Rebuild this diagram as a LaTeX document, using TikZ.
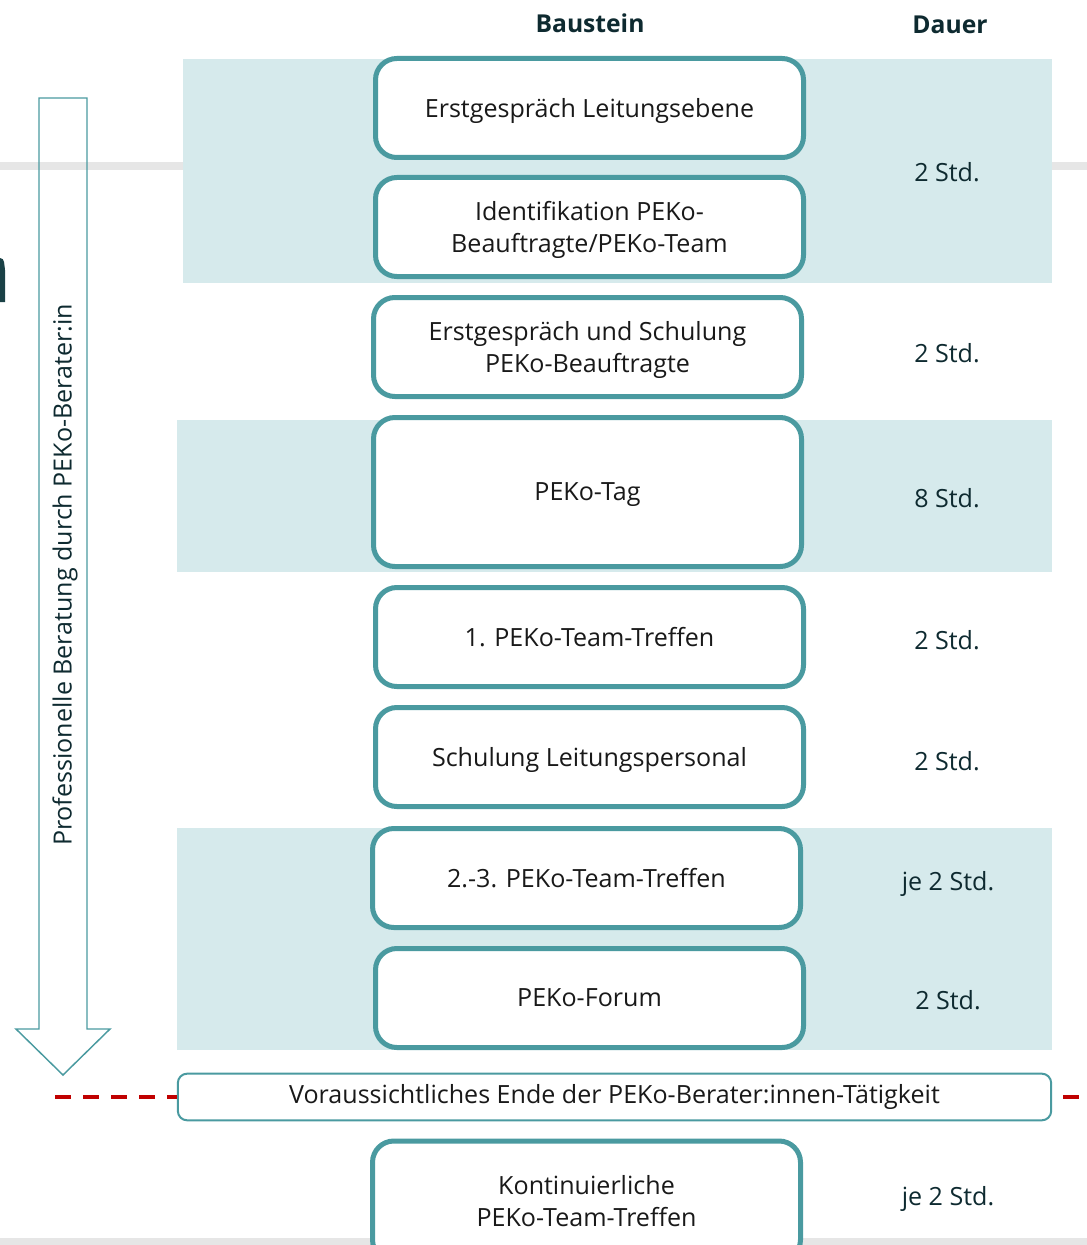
\documentclass[tikz,border=0pt]{standalone}
\usepackage{fontspec}
\setmainfont{Open Sans}
\definecolor{tealline}{HTML}{4A9AA0}
\definecolor{bandfill}{HTML}{D6EAEC}
\definecolor{greyline}{HTML}{E6E6E6}
\definecolor{darktext}{HTML}{0E2A30}
\definecolor{endred}{HTML}{C00000}
\begin{document}
\begin{tikzpicture}[x=0.75pt,y=-0.75pt,
    baustein/.style={draw=tealline,line width=3.75pt,rounded corners=16pt,fill=white,
        minimum width=321pt,minimum height=74.25pt,align=center,inner sep=0pt,
        text depth=0pt,font=\fontsize{18.8}{24}\selectfont,text=black!90},
    dauer/.style={font=\fontsize{18.8}{24}\selectfont,text depth=0pt,text=darktext},
    kopf/.style={font=\fontsize{18.5}{24}\selectfont\bfseries,text=darktext},
    band/.style={fill=bandfill},
    endline/.style={draw=endred,line width=3pt,dash pattern=on 12pt off 9pt}]
    \clip (0,0) rectangle (1087,1245);
    % background lines
    \fill[greyline] (0,162) rectangle (1087,170);
    \fill[greyline] (0,1238) rectangle (1087,1245);
    \fill[darktext!80!tealline] (0,302) -- (0,258) to[out=0,in=100] (5,270) -- (5,302) -- cycle;
    % bands
    \fill[band] (183,59) rectangle (1052,283);
    \fill[band] (177,420) rectangle (1052,572);
    \fill[band] (177,828) rectangle (1052,1050);
    % headers
    \node[kopf] (hbaustein) at (590,23) {Baustein};
    \node[kopf] (hdauer) at (950,25) {Dauer};
    % arrow
    \draw[tealline,line width=1.1pt]
        (39,98) -- (87,98) -- (87,1029) -- (110,1029) -- (63,1075)
        -- (16,1029) -- (39,1029) -- cycle;
    \node[rotate=90,font=\fontsize{18.8}{24}\selectfont,text=darktext] (berater) at (65,575)
        {Professionelle Beratung durch PEKo-Berater:in};
    % bausteine
    \node[baustein] (erst) at (589.5,108) {Erstgespräch Leitungsebene};
    \node[baustein] (ident) at (589.5,227) {Identifikation PEKo-\\Beauftragte/PEKo-Team};
    \node[baustein] (schul) at (587.5,347) {Erstgespräch und Schulung\\PEKo-Beauftragte};
    \node[baustein,minimum height=111.75pt] (tag) at (587.5,492) {PEKo-Tag};
    \node[baustein] (team1) at (589.5,637) {1. PEKo-Team-Treffen};
    \node[baustein] (leitung) at (589.5,757) {Schulung Leitungspersonal};
    \node[baustein] (team23) at (586.5,878) {2.-3. PEKo-Team-Treffen};
    \node[baustein] (forum) at (589.5,998) {PEKo-Forum};
    \node[baustein,minimum height=90pt] (kont) at (586.5,1201) {Kontinuierliche\\PEKo-Team-Treffen};
    % dauer
    \node[dauer] (d1) at (947,172) {2 Std.};
    \node[dauer] (d2) at (947,353) {2 Std.};
    \node[dauer] (d3) at (947,498) {8 Std.};
    \node[dauer] (d4) at (947,640) {2 Std.};
    \node[dauer] (d5) at (947,761) {2 Std.};
    \node[dauer] (d6) at (948,881) {je 2 Std.};
    \node[dauer] (d7) at (948,1000) {2 Std.};
    \node[dauer] (d8) at (948,1196) {je 2 Std.};
    % end of consulting
    \node[draw=tealline,line width=1.5pt,rounded corners=7pt,fill=white,
        minimum width=655pt,minimum height=35pt,inner sep=0pt,
        font=\fontsize{18.8}{24}\selectfont,text=black!90] (ende) at (614.5,1097)
        {Voraussichtliches Ende der PEKo-Berater:innen-Tätigkeit};
    \coordinate (redl) at (55,1097);
    \coordinate (redr) at (1063,1097);
    \draw[endline] (redl) -- (ende.west);
    \draw[endline] (redr) -- (1087,1097);
\end{tikzpicture}
\end{document}
